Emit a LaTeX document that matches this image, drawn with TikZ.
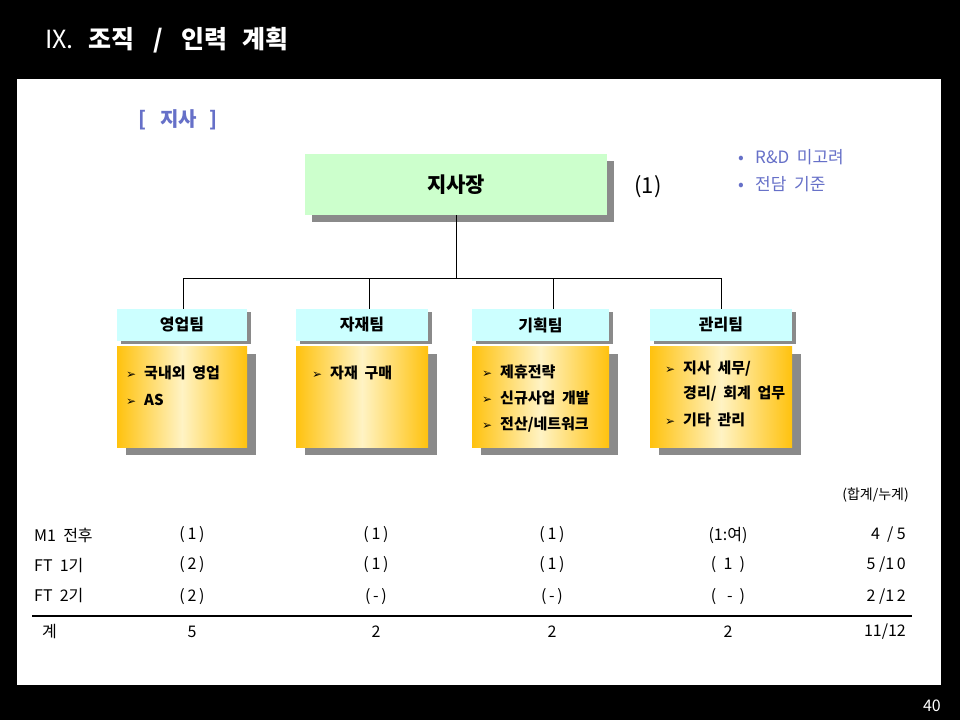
\documentclass[tikz,border=0pt]{standalone}
\usepackage{fontspec}
\setmainfont{Noto Sans CJK KR}
\newfontfamily\dvfont{DejaVu Sans}
\usetikzlibrary{shadows,calc}
\definecolor{bluet}{HTML}{6670C8}
\definecolor{boxgreen}{HTML}{CCFFCC}
\definecolor{boxcyan}{HTML}{CCFFFF}
\definecolor{ylo}{HTML}{FFC20E}
\definecolor{ylc}{HTML}{FFF3C4}
\definecolor{shd}{HTML}{8A8A8A}
\newcommand{\fsz}[1]{\fontsize{#1}{#1}\selectfont}
\newcommand{\arrb}{\makebox[18pt][l]{\dvfont\fsz{12}➢}}
\newcommand{\dotb}{\makebox[17pt][l]{•}}
\newcommand{\wsp}{\hspace{0.45em}}
\tikzset{
  bossbox/.style={draw=none, fill=boxgreen, minimum width=302pt, minimum height=61pt, inner sep=0pt,
    drop shadow={shadow xshift=7pt, shadow yshift=-7pt, fill=shd, opacity=1}, font=\fsz{21}\bfseries},
  teambox/.style={fill=boxcyan, minimum height=32pt, inner sep=0pt,
    drop shadow={shadow xshift=4pt, shadow yshift=-3pt, fill=shd, opacity=1}, font=\fsz{16}\bfseries},
  workbox/.style={left color=ylo, right color=ylo, middle color=ylc, minimum height=101pt, inner sep=0pt,
    drop shadow={shadow xshift=9pt, shadow yshift=-8pt, fill=shd, opacity=1}},
  item/.style={anchor=west, inner sep=0pt, font=\fsz{15}\bfseries},
  tcell/.style={inner sep=0pt, font=\fsz{16}},
  link/.style={draw=black, line width=0.8pt}
}
\begin{document}
\begin{tikzpicture}[x=1pt,y=-1pt]
\useasboundingbox (0,0) rectangle (960,720);
\fill[black] (0,0) rectangle (960,720);
\fill[white] (17,79) rectangle (941,685);
% title
\node[anchor=west, text=white, inner sep=0pt, font=\fsz{25}] (title) at (45,40) {IX.\hspace{0.6em}\textbf{조직\hspace{0.75em}/\hspace{0.75em}인력\hspace{0.6em}계획}};
\node[anchor=east, text=white, inner sep=0pt, font=\fsz{16}] (pgno) at (941,706) {40};
\node[anchor=west, text=bluet, inner sep=0pt, font=\fsz{20}\bfseries] (sect) at (138,120) {[\hspace{0.7em}지사\hspace{0.6em}]};
% boss
\node[bossbox] (boss) at (456,184.5) {지사장};
\node[inner sep=0pt, font=\fsz{22}] (bosscnt) at (648,187) {(1)};
\node[item, font=\fsz{17}, text=bluet] (note1) at (738,157) {\dotb R\&D\wsp 미고려};
\node[item, font=\fsz{17}, text=bluet] (note2) at (738,184) {\dotb 전담\wsp 기준};
% teams
\node[teambox, minimum width=130pt] (t1) at (182,325) {영업팀};
\node[teambox, minimum width=132pt] (t2) at (362,325) {자재팀};
\node[teambox, minimum width=137pt] (t3) at (540.5,325) {기획팀};
\node[teambox, minimum width=142pt] (t4) at (721,325) {관리팀};
% connectors
\draw[link] (boss.south) -- ++(0,63) coordinate (bj);
\draw[link] (bj) -| ([xshift=1pt]t1.north);
\draw[link] (bj) -| ([xshift=7pt]t2.north);
\draw[link] (bj) -| ([xshift=12.5pt]t3.north);
\draw[link] (bj) -| (t4.north);
% work boxes
\node[workbox, minimum width=130pt] (c1) at (182,396.5) {};
\node[workbox, minimum width=132pt] (c2) at (362,396.5) {};
\node[workbox, minimum width=137pt] (c3) at (540.5,396.5) {};
\node[workbox, minimum width=142pt] (c4) at (721,396.5) {};
\node[item] (c1a) at (126,373) {\arrb 국내외\wsp 영업};
\node[item] (c1b) at (126,400) {\arrb AS};
\node[item] (c2a) at (312,373) {\arrb 자재\wsp 구매};
\node[item] (c3a) at (482,372) {\arrb 제휴전략};
\node[item] (c3b) at (482,398) {\arrb 신규사업\wsp 개발};
\node[item] (c3c) at (482,425) {\arrb 전산/네트워크};
\node[item] (c4a) at (665,369) {\arrb 지사\wsp 세무/};
\node[item] (c4b) at (683,394) {경리/\wsp 회계\wsp 업무};
\node[item] (c4c) at (665,420) {\arrb 기타\wsp 관리};
% table
\node[tcell, anchor=east, font=\fsz{14}] (hdr) at (909,495) {(합계/누계)};
\node[tcell, anchor=west] (r1) at (34,535) {M1\wsp 전후};
\node[tcell, anchor=west] (r2) at (34,565) {FT\wsp 1기};
\node[tcell, anchor=west] (r3) at (34,595) {FT\wsp 2기};
\node[tcell, anchor=west] (r4) at (42,631) {계};
\node[tcell] (a1) at (192,535) {(\,1\,)};
\node[tcell] (a2) at (192,565) {(\,2\,)};
\node[tcell] (a3) at (192,597) {(\,2\,)};
\node[tcell] (a4) at (192,632) {5};
\node[tcell] (b1) at (376,535) {(\,1\,)};
\node[tcell] (b2) at (376,565) {(\,1\,)};
\node[tcell] (b3) at (376,597) {(\,-\,)};
\node[tcell] (b4) at (376,632) {2};
\node[tcell] (d1) at (552,535) {(\,1\,)};
\node[tcell] (d2) at (552,565) {(\,1\,)};
\node[tcell] (d3) at (552,597) {(\,-\,)};
\node[tcell] (d4) at (552,632) {2};
\node[tcell] (e1) at (728,535) {(1:여)};
\node[tcell] (e2) at (728,565) {(\ \ 1\ \ )};
\node[tcell] (e3) at (728,597) {(\ \ \ -\ \ )};
\node[tcell] (e4) at (728,632) {2};
\node[tcell, anchor=east] (f1) at (906,535) {4\ \ /\ 5};
\node[tcell, anchor=east] (f2) at (906,565) {5\ /1\,0};
\node[tcell, anchor=east] (f3) at (906,597) {2\ /1\,2};
\node[tcell, anchor=east] (f4) at (906,632) {11/12};
\coordinate (ruleL) at (32,616);
\coordinate (ruleR) at (912,616);
\draw[line width=1.6pt] (ruleL) -- (ruleR);
\end{tikzpicture}
\end{document}
